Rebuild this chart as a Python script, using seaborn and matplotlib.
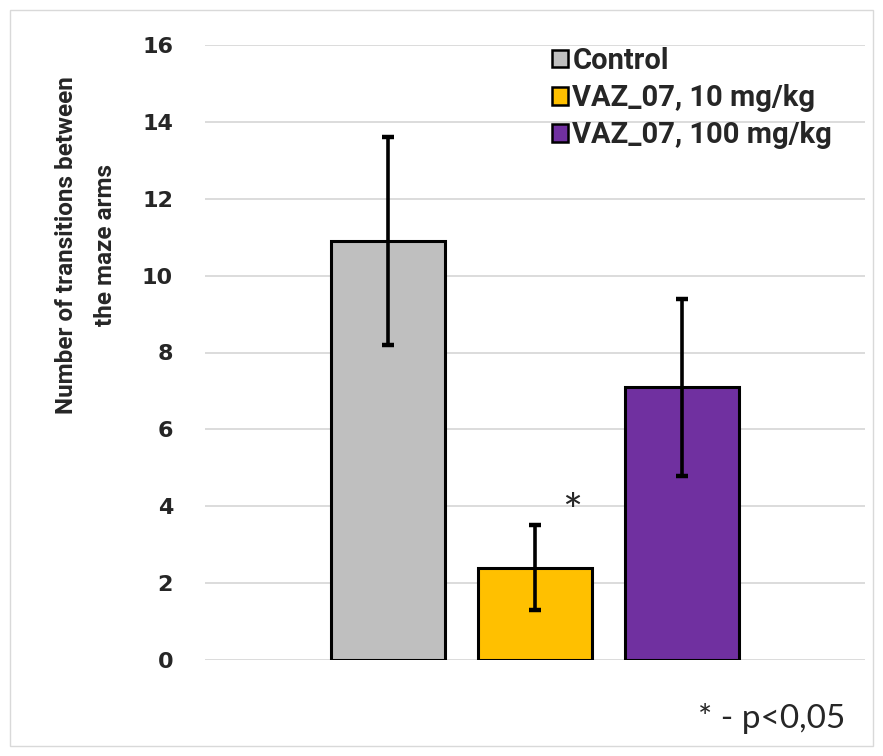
import numpy as np
import pandas as pd
import matplotlib.pyplot as plt
import seaborn as sns
from matplotlib.patches import Rectangle, Patch

# data
groups = ['Control', 'VAZ_07, 10 mg/kg', 'VAZ_07, 100 mg/kg']
means = [10.9, 2.4, 7.1]
errors = [2.7, 1.1, 2.3]
colors = ['#BFBFBF', '#FFC000', '#7030A0']
yticks = [0, 2, 4, 6, 8, 10, 12, 14, 16]

sns.set_theme(style='white')
plt.rcParams['font.family'] = ['Lato', 'DejaVu Sans']

df = pd.DataFrame({'group': groups, 'mean': means})

fig = plt.figure(figsize=(8.83, 7.56), dpi=100)
ax = fig.add_axes([205 / 883, 1 - 660 / 756, 660 / 883, 615 / 756])

sns.barplot(data=df, x='group', y='mean', hue='group', palette=colors, saturation=1,
            order=groups, hue_order=groups, dodge=False, width=0.78,
            edgecolor='black', linewidth=2.2, errorbar=None, legend=False, ax=ax, zorder=3)

ax.errorbar(np.arange(len(groups)), means, yerr=errors, fmt='none', ecolor='black',
            elinewidth=2.6, capsize=4.5, capthick=3.2, zorder=4)

ax.set_ylim(0, 16)
ax.set_xlim(-1.245, 3.245)
ax.set_yticks(yticks)
ax.set_yticklabels([str(t) for t in yticks], family='DejaVu Sans', fontweight='bold', fontsize=16)
ax.tick_params(axis='y', length=0, pad=23)
ax.set_xticks([])
ax.set_xlabel('')
ax.yaxis.grid(True, color='#D9D9D9', linewidth=1.3, zorder=0)
ax.set_axisbelow(True)
for s in ax.spines.values():
    s.set_visible(False)

ax.set_ylabel('Number of transitions between\nthe maze arms', family='Roboto', fontsize=17.5,
              fontweight='bold', linespacing=1.85)
ax.yaxis.set_label_coords(-0.134, 0.675)

handles = [Patch(facecolor=c, edgecolor='black', linewidth=1.8) for c in colors]
leg = ax.legend(handles, groups, loc='upper left', bbox_to_anchor=(0.508, 1.016),
                frameon=False, prop={'family': 'Roboto', 'weight': 'bold', 'size': 21},
                handlelength=0.55, handleheight=0.55, handletextpad=0.15, labelspacing=0.32,
                borderaxespad=0.0)

ax.text(1.25, 3.8, '*', fontsize=34, ha='center', va='center')
fig.text(845 / 883, 1 - 718 / 756, '* - p<0,05', fontsize=24, ha='right', va='center')

fig.add_artist(Rectangle((10 / 883, 10 / 756), 863 / 883, 736 / 756, transform=fig.transFigure,
                         fill=False, edgecolor='#D9D9D9', linewidth=1))

fig.savefig('out.png', dpi=100)
